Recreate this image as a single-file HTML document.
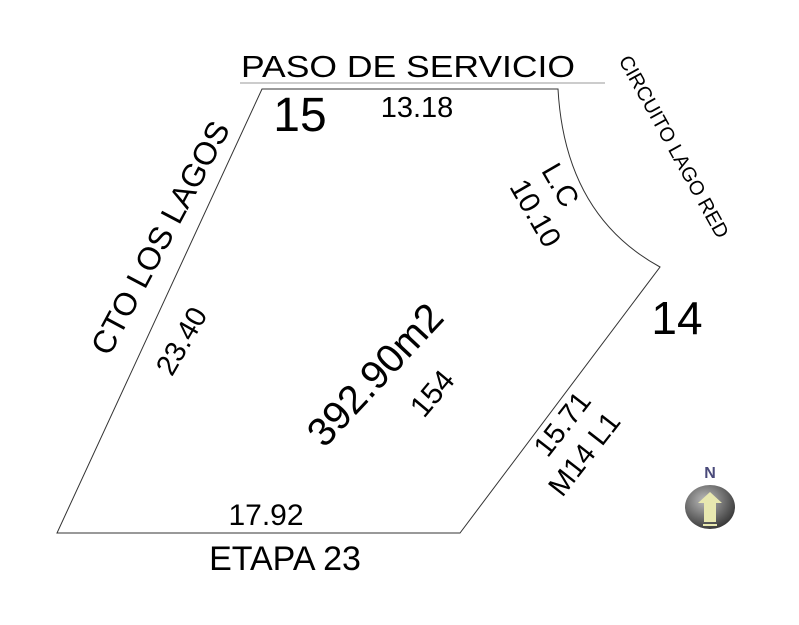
<!DOCTYPE html>
<html><head><style>body{margin:0;background:#fff}svg{display:block}text{font-family:"Liberation Sans",sans-serif;fill:#000}</style></head>
<body>
<svg width="799" height="625" viewBox="0 0 799 625">
<defs><radialGradient id="g" cx="0.4" cy="0.35" r="0.7"><stop offset="0" stop-color="#bbb"/><stop offset="1" stop-color="#333"/></radialGradient></defs>
<line x1="240" y1="83" x2="605" y2="83" stroke="#999" stroke-width="1"/>
<path d="M262,89 L558,89 Q565,215 660,267 L460,533 L57,533 Z" fill="none" stroke="#333" stroke-width="1"/>
<text x="408" y="77" font-size="31" text-anchor="middle" textLength="334" lengthAdjust="spacingAndGlyphs">PASO DE SERVICIO</text>
<text x="300" y="131" font-size="48" text-anchor="middle">15</text>
<text x="417" y="117" font-size="29" text-anchor="middle">13.18</text>
<text transform="translate(668,150) rotate(61)" font-size="20" text-anchor="middle">CIRCUITO LAGO RED</text>
<text transform="translate(552,190) rotate(60)" font-size="29" text-anchor="middle">L.C</text>
<text transform="translate(527,218) rotate(60)" font-size="29" text-anchor="middle">10.10</text>
<text x="677" y="334" font-size="46" text-anchor="middle">14</text>
<text transform="translate(170,243) rotate(-62)" font-size="32" text-anchor="middle">CTO LOS LAGOS</text>
<text transform="translate(190,346) rotate(-60)" font-size="29" text-anchor="middle">23.40</text>
<text transform="translate(385,384) rotate(-47)" font-size="40" text-anchor="middle">392.90m2</text>
<text transform="translate(440,400) rotate(-50)" font-size="30" text-anchor="middle">154</text>
<text transform="translate(570,430) rotate(-52)" font-size="29" text-anchor="middle">15.71</text>
<text transform="translate(592,460) rotate(-52)" font-size="29" text-anchor="middle">M14 L1</text>
<text x="266" y="525" font-size="30" text-anchor="middle">17.92</text>
<text x="285" y="570" font-size="34" text-anchor="middle">ETAPA 23</text>
<text x="710" y="478" font-size="16" font-weight="bold" text-anchor="middle" style="fill:#4a4a7a">N</text>
<ellipse cx="710" cy="507" rx="25" ry="22" fill="url(#g)"/>
<path d="M704,522 L704,503 L698,503 L710,492 L722,503 L716,503 L716,522 Z M703,524 h14 v2 h-14 Z" fill="#e8e8b0"/>
</svg>
</body></html>
